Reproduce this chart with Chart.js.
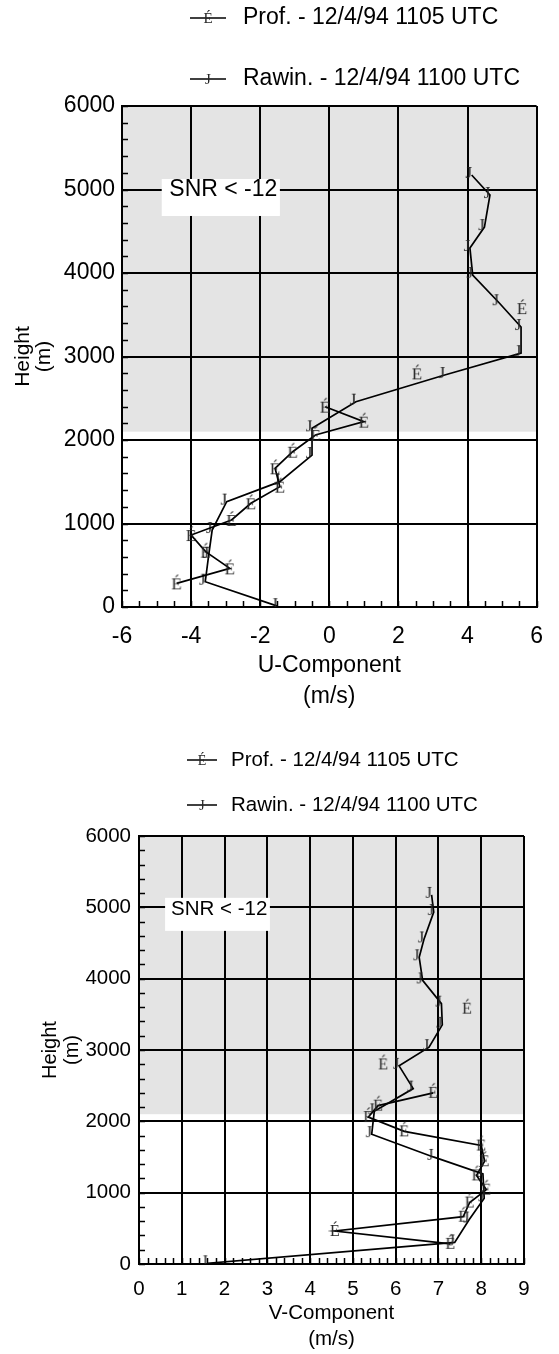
<!DOCTYPE html>
<html>
<head>
<meta charset="utf-8">
<title>Profiler vs rawinsonde winds</title>
<script src="https://cdn.jsdelivr.net/npm/chart.js@4.4.1/dist/chart.umd.min.js"></script>
<style>
  html, body { margin: 0; padding: 0; background: #fff; }
  #wrap { position: relative; width: 559px; height: 1354px; }
  canvas { position: absolute; left: 0; }
  #uChart { top: 0; }
  #vChart { top: 720px; }
</style>
</head>
<body>
<div id="wrap">
  <canvas id="uChart" width="559" height="720"></canvas>
  <canvas id="vChart" width="559" height="634"></canvas>
</div>
<script>
const heightTicks = [0, 1000, 2000, 3000, 4000, 5000, 6000];
const uTicks = [-6, -4, -2, 0, 2, 4, 6];
const vTicks = [0, 1, 2, 3, 4, 5, 6, 7, 8, 9];

const seriesNames = ['Prof. - 12/4/94 1105 UTC', 'Rawin. - 12/4/94 1100 UTC'];
const markerChars = ['É', 'J'];

// profiler gates (m), null where the gate had no usable return
const profHeights = [283, 463, 663, 862, 1042, 1242, 1441, 1661, 1860, 2060, 2220, 2399, 2600, 2798, 2990, 3190, 3390, 3580];
const profU = [-4.42, -2.88, -3.58, -4.0, -2.83, -2.27, -1.43, -1.57, -1.06, -0.4, 1.0, -0.12, null, 2.54, null, null, null, 5.58];
const profV = [7.28, 4.58, 7.58, 7.73, 8.12, 7.89, 8.08, 8.0, 6.2, 5.36, 5.59, 6.88, null, 5.71, null, null, null, 7.67];

// rawinsonde levels (m)
const rawinHeights = [10, 303, 623, 922, 1262, 1501, 1820, 2140, 2459, 2778, 3040, 3353, 3650, 3976, 4300, 4550, 4934, 5174];
const rawinU = [-1.5, -3.59, -3.49, -3.39, -2.97, -1.43, -0.5, -0.5, 0.77, 3.34, 5.55, 5.55, 4.9, 4.15, 4.07, 4.49, 4.65, 4.12];
const rawinV = [1.6, 7.38, 7.72, 8.07, 8.04, 6.88, 5.44, 5.5, 6.41, 6.08, 6.78, 7.09, 7.07, 6.63, 6.55, 6.66, 6.89, 6.84];

const SANS = '"Liberation Sans", Arial, Helvetica, sans-serif';
const SERIF = '"Liberation Serif", "Times New Roman", Times, serif';
const MARK_COLOR = '#262626';

function pairs(heights, values) {
    return heights.map((h, i) => ({ x: values[i], y: values[i] === null ? null : h }));
}

// old symbol-font markers come out as letters; draw them as point images
function glyphMarker(ch, size, dx, dy) {
    const c = document.createElement('canvas');
    c.width = 28;
    c.height = 28;
    const g = c.getContext('2d');
    g.font = size + 'px ' + SERIF;
    g.fillStyle = MARK_COLOR;
    g.textAlign = 'center';
    g.textBaseline = 'alphabetic';
    g.fillText(ch, 14 + dx, 14 + dy);
    return c;
}

const profileDecor = {
    id: 'profileDecor',
    beforeDraw(chart, args, opts) {
        const { ctx, chartArea: a, scales: { y } } = chart;
        const yLow = y.getPixelForValue(opts.shadeFrom);
        ctx.save();
        ctx.fillStyle = '#e4e4e4';
        ctx.fillRect(a.left, a.top, a.right - a.left, yLow - a.top);
        ctx.restore();
    },
    beforeDatasetsDraw(chart, args, opts) {
        const { ctx, chartArea: a, scales: { x, y } } = chart;
        ctx.save();

        // SNR note
        const b = opts.note;
        const bx0 = x.getPixelForValue(b.x0), bx1 = x.getPixelForValue(b.x1);
        const by0 = y.getPixelForValue(b.y0), by1 = y.getPixelForValue(b.y1);
        ctx.fillStyle = '#fff';
        ctx.fillRect(bx0, by0, bx1 - bx0, by1 - by0);
        ctx.fillStyle = '#000';
        ctx.font = opts.fontSize + 'px ' + SANS;
        ctx.textAlign = 'left';
        ctx.textBaseline = 'middle';
        ctx.fillText(b.text, x.getPixelForValue(b.tx), y.getPixelForValue(b.ty));

        // minor ticks pointing into the plot
        ctx.strokeStyle = '#000';
        ctx.lineWidth = 1.5;
        ctx.beginPath();
        const ny = Math.round((y.max - y.min) / opts.yMinor);
        for (let i = 0; i <= ny; i++) {
            const py = Math.round(y.getPixelForValue(y.min + i * opts.yMinor)) + 0.5;
            ctx.moveTo(a.left, py);
            ctx.lineTo(a.left + opts.tickLen, py);
        }
        const nx = Math.round((x.max - x.min) / opts.xMinor);
        for (let i = 0; i <= nx; i++) {
            const px = Math.round(x.getPixelForValue(x.min + i * opts.xMinor)) + 0.5;
            ctx.moveTo(px, a.bottom);
            ctx.lineTo(px, a.bottom - opts.tickLen);
        }
        ctx.stroke();
        ctx.restore();
    },
    afterDraw(chart, args, opts) {
        const { ctx } = chart;
        const leg = opts.legend;
        ctx.save();
        chart.data.datasets.forEach((ds, i) => {
            const cy = leg.top + i * leg.rowGap;
            ctx.strokeStyle = '#000';
            ctx.lineWidth = 1.5;
            ctx.beginPath();
            ctx.moveTo(leg.left, cy);
            ctx.lineTo(leg.left + leg.lineLen, cy);
            ctx.stroke();

            ctx.fillStyle = MARK_COLOR;
            ctx.font = leg.glyphSize + 'px ' + SERIF;
            ctx.textAlign = 'center';
            ctx.textBaseline = 'alphabetic';
            ctx.fillText(markerChars[i], leg.left + leg.lineLen / 2, cy + leg.glyphSize * 0.33);

            ctx.fillStyle = '#000';
            ctx.font = opts.fontSize + 'px ' + SANS;
            ctx.textAlign = 'left';
            ctx.textBaseline = 'middle';
            ctx.fillText(ds.label, leg.left + leg.lineLen + leg.gap, cy);
        });
        ctx.restore();
    }
};

function makeProfileChart(canvasId, c) {
    const ctx = document.getElementById(canvasId).getContext('2d');
    const font = { family: SANS, size: c.fontSize };
    const lineStyle = { showLine: true, borderColor: '#000', borderWidth: 1.7, pointRadius: 5, spanGaps: false, tension: 0 };

    return new Chart(ctx, {
        type: 'scatter',
        data: {
            datasets: [
                Object.assign({ label: seriesNames[0], data: pairs(profHeights, c.prof), pointStyle: glyphMarker(markerChars[0], c.markSize, 0, c.markSize * 0.33) }, lineStyle),
                Object.assign({ label: seriesNames[1], data: pairs(rawinHeights, c.rawin), pointStyle: glyphMarker(markerChars[1], c.markSize, -3, 3) }, lineStyle)
            ]
        },
        options: {
            responsive: false,
            animation: false,
            events: [],
            layout: { padding: { top: c.padTop, right: c.padRight, left: 0, bottom: 0 } },
            plugins: {
                legend: { display: false },
                tooltip: { enabled: false },
                profileDecor: {
                    shadeFrom: 2100,
                    yMinor: 200,
                    xMinor: c.xMinor,
                    tickLen: 6,
                    fontSize: c.fontSize,
                    note: c.note,
                    legend: c.legend
                }
            },
            scales: {
                x: {
                    type: 'linear',
                    position: 'bottom',
                    min: c.ticks[0],
                    max: c.ticks[c.ticks.length - 1],
                    afterBuildTicks: s => { s.ticks = c.ticks.map(v => ({ value: v })); },
                    afterFit: s => { s.height = c.axisBottom; },
                    grid: { color: '#000', lineWidth: 2, drawTicks: false },
                    border: { color: '#000', width: 2 },
                    ticks: { color: '#000', font: Object.assign({ lineHeight: 1.2 }, font), padding: c.xTickPad, maxRotation: 0, autoSkip: false, callback: v => String(v) },
                    title: { display: true, text: c.xTitle, color: '#000', font: Object.assign({}, font, { lineHeight: c.xTitleLH / c.fontSize }), padding: { top: 0, bottom: c.xTitlePad } }
                },
                y: {
                    type: 'linear',
                    min: 0,
                    max: 6000,
                    afterBuildTicks: s => { s.ticks = heightTicks.map(v => ({ value: v })); },
                    afterFit: s => { s.width = c.axisLeft; },
                    grid: { color: '#000', lineWidth: 2, drawTicks: false },
                    border: { color: '#000', width: 2 },
                    ticks: { color: '#000', font: font, padding: c.yTickPad, callback: v => String(v) },
                    title: { display: true, text: ['Height', '(m)'], color: '#000', font: { family: SANS, size: c.yTitleSize, lineHeight: c.yTitleLH / c.yTitleSize }, padding: { top: c.yTitlePad, bottom: 0 } }
                }
            }
        },
        plugins: [profileDecor]
    });
}

document.addEventListener('DOMContentLoaded', () => {
    makeProfileChart('uChart', {
        prof: profU, rawin: rawinU, ticks: uTicks, xMinor: 0.5,
        xTitle: ['U-Component', '(m/s)'],
        fontSize: 23, markSize: 17,
        axisLeft: 122, axisBottom: 113, padTop: 106, padRight: 9,
        xTickPad: 16, yTickPad: 7, xTitlePad: 7.5, xTitleLH: 31,
        yTitleSize: 21, yTitlePad: 12.5, yTitleLH: 21,
        legend: { left: 190, top: 18, rowGap: 61, lineLen: 36, gap: 17, glyphSize: 15 },
        note: { text: 'SNR < -12', x0: -4.85, x1: -1.43, y0: 5126, y1: 4683, tx: -4.63, ty: 4994 }
    });

    makeProfileChart('vChart', {
        prof: profV, rawin: rawinV, ticks: vTicks, xMinor: 0.2,
        xTitle: ['V-Component', '(m/s)'],
        fontSize: 20.5, markSize: 16,
        axisLeft: 139, axisBottom: 90, padTop: 116, padRight: 35,
        xTickPad: 13, yTickPad: 8, xTitlePad: 2, xTitleLH: 26,
        yTitleSize: 20, yTitlePad: 39, yTitleLH: 22,
        legend: { left: 187, top: 40, rowGap: 45, lineLen: 30, gap: 14, glyphSize: 14 },
        note: { text: 'SNR < -12', x0: 0.61, x1: 3.06, y0: 5133, y1: 4670, tx: 0.75, ty: 4965 }
    });
});
</script>
</body>
</html>
